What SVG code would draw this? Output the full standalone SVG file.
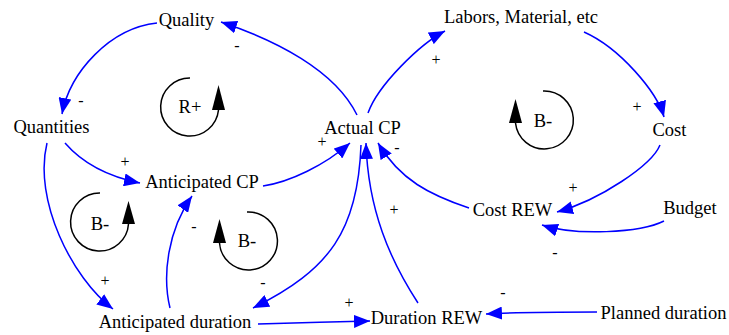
<svg xmlns="http://www.w3.org/2000/svg" width="729" height="335" viewBox="0 0 729 335">
<style>
text{font-family:'Liberation Serif',Tinos,'DejaVu Serif',serif;fill:#000;text-anchor:middle}
.node{font-size:18.5px}
.sign{font-size:16px}
.edge{fill:none;stroke:#0000ff;stroke-width:1.5;marker-end:url(#ah)}
.loop{fill:none;stroke:#000;stroke-width:1.5}
.loophead{fill:#000}
</style>
<defs>
<marker id="ah" markerUnits="userSpaceOnUse" markerWidth="16" markerHeight="13" refX="16" refY="6.5" orient="auto" viewBox="0 0 16 13">
<path d="M0,0 L16,6.5 L0,13 z" fill="#0000ff"/>
</marker>
</defs>
<rect width="729" height="335" fill="#fff"/>
<g id="connectors">
<path class="edge" d="M357,115 C335,70 275,40 221,22"/>
<path class="edge" d="M157,23 C110,28 70,72 62,114"/>
<path class="edge" d="M65,143 C78,158 100,175 140,183"/>
<path class="edge" d="M47,143 C33,200 72,278 113,309"/>
<path class="edge" d="M263,186 C290,182 325,165 350,143"/>
<path class="edge" d="M368,113 C378,85 420,44 445,31"/>
<path class="edge" d="M584,32 C620,48 657,92 664,117"/>
<path class="edge" d="M660,145 C652,165 600,200 557,212"/>
<path class="edge" d="M469,208 C430,195 400,180 378,143"/>
<path class="edge" d="M664,221 C640,233 575,236 542,225"/>
<path class="edge" d="M361,145 C358,230 330,270 253,308"/>
<path class="edge" d="M418,303 C390,260 368,210 366,143"/>
<path class="edge" d="M170,308 C162,275 168,230 192,196"/>
<path class="edge" d="M258,324 C300,323 330,322 370,321"/>
<path class="edge" d="M597,312 C560,312 520,312 486,314"/>
</g>
<g id="signs">
<text class="sign" x="237" y="51">-</text>
<text class="sign" x="81" y="106">-</text>
<text class="sign" x="125" y="167">+</text>
<text class="sign" x="322" y="147">+</text>
<text class="sign" x="436" y="65">+</text>
<text class="sign" x="637" y="112">+</text>
<text class="sign" x="573" y="193">+</text>
<text class="sign" x="397" y="153">-</text>
<text class="sign" x="555" y="258">-</text>
<text class="sign" x="394" y="215">+</text>
<text class="sign" x="263" y="288">-</text>
<text class="sign" x="194" y="232">-</text>
<text class="sign" x="105" y="286">+</text>
<text class="sign" x="349" y="308">+</text>
<text class="sign" x="503" y="298">-</text>
</g>
<g id="loop-R">
<path class="loop" d="M190,78 A29,29 0 1 0 218.5,110"/>
<polygon class="loophead" points="212,110 225,110 218.5,85"/>
<text class="node" x="190" y="113">R+</text>
</g>
<g id="loop-B-right">
<path class="loop" d="M543,91 A29,29 0 1 1 515.5,123"/>
<polygon class="loophead" points="509,123 522,123 515.5,99"/>
<text class="node" x="543" y="127">B-</text>
</g>
<g id="loop-B-left">
<path class="loop" d="M100,193 A29,29 0 1 0 128.5,224"/>
<polygon class="loophead" points="122,224 135,224 128.5,201"/>
<text class="node" x="100" y="230">B-</text>
</g>
<g id="loop-B-mid">
<path class="loop" d="M247,212 A29,29 0 1 1 219.5,243"/>
<polygon class="loophead" points="213,243 226,243 219.5,219"/>
<text class="node" x="247" y="247">B-</text>
</g>
<g id="quality"><text class="node" x="186.5" y="26">Quality</text></g>
<g id="quantities"><text class="node" x="51.5" y="133">Quantities</text></g>
<g id="actual-cp"><text class="node" x="362.5" y="134">Actual CP</text></g>
<g id="labors"><text class="node" x="521" y="23">Labors, Material, etc</text></g>
<g id="cost"><text class="node" x="669.5" y="136">Cost</text></g>
<g id="anticipated-cp"><text class="node" x="202" y="188">Anticipated CP</text></g>
<g id="cost-rew"><text class="node" x="512.5" y="216">Cost REW</text></g>
<g id="budget"><text class="node" x="690" y="214">Budget</text></g>
<g id="anticipated-duration"><text class="node" x="175" y="328">Anticipated duration</text></g>
<g id="duration-rew"><text class="node" x="426.5" y="324">Duration REW</text></g>
<g id="planned-duration"><text class="node" x="663.5" y="319">Planned duration</text></g>
</svg>
